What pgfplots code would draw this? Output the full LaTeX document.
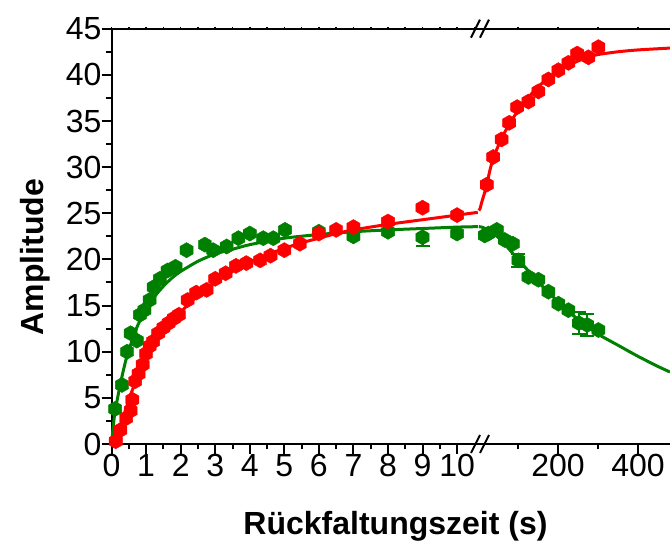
\documentclass[border=0pt]{standalone}
\usepackage{fontspec}
\setmainfont{Liberation Sans}
\usepackage{pgfplots}
\usepackage{pgfplotstable}
\pgfplotsset{compat=1.18}

\definecolor{rred}{RGB}{255,0,0}
\definecolor{ggreen}{RGB}{0,128,0}

% filled hexagon, vertex on top
\pgfdeclareplotmark{hexa*}{%
  \pgfpathmoveto{\pgfqpointpolar{90}{\pgfplotmarksize}}%
  \pgfpathlineto{\pgfqpointpolar{150}{\pgfplotmarksize}}%
  \pgfpathlineto{\pgfqpointpolar{210}{\pgfplotmarksize}}%
  \pgfpathlineto{\pgfqpointpolar{270}{\pgfplotmarksize}}%
  \pgfpathlineto{\pgfqpointpolar{330}{\pgfplotmarksize}}%
  \pgfpathlineto{\pgfqpointpolar{30}{\pgfplotmarksize}}%
  \pgfpathclose
  \pgfusepathqfillstroke}

% ---------- measured amplitudes, 0-10 s ----------
\pgfplotstableread{
t    a
0.12 0.3
0.25 1.5
0.42 2.8
0.55 3.6
0.60 4.8
0.68 6.8
0.78 7.6
0.90 8.6
1.00 9.8
1.10 10.6
1.20 11.1
1.35 12.0
1.50 12.6
1.65 13.1
1.80 13.6
1.95 14.0
2.20 15.6
2.45 16.4
2.75 16.7
3.00 17.9
3.30 18.5
3.60 19.3
3.90 19.6
4.30 19.9
4.60 20.4
5.00 21.0
5.45 21.7
6.00 22.8
6.50 23.2
7.00 23.5
8.00 24.1
9.00 25.6
10.00 24.8
}\redA
\pgfplotstableread{
t    a
0.10 3.8
0.30 6.4
0.45 10.0
0.55 12.0
0.73 11.2
0.82 14.0
0.95 14.5
1.10 15.6
1.22 17.0
1.40 17.9
1.62 18.8
1.85 19.2
2.17 21.0
2.70 21.6
2.94 21.0
3.33 21.4
3.67 22.3
4.00 22.8
4.39 22.3
4.68 22.3
5.02 23.2
6.00 23.0
7.00 22.5
8.00 23.0
10.00 22.8
}\greenA
\pgfplotstableread{
t    a    e
9.00 22.4 1.0
}\greenAerr

% ---------- measured amplitudes, long times ----------
\pgfplotstableread{
t   a
22  28.1
38  31.1
59  33.0
78  34.8
98  36.5
126 37.1
151 38.2
176 39.5
201 40.5
226 41.3
248 42.3
276 41.9
301 43.0
}\redB
\pgfplotstableread{
t   a
17  22.6
26  22.8
47  23.2
67  22.1
87  21.7
126 18.1
151 17.8
176 16.5
201 15.2
226 14.5
301 12.35
}\greenB
\pgfplotstableread{
t   a    e
101 19.9 0.7
252 13.1 1.2
273 12.9 1.2
}\greenBerr

% ---------- fitted curves ----------
\pgfplotstableread{
t    a
0.12 0.0
0.25 1.8
0.50 4.8
0.75 7.3
1.00 9.3
1.25 10.9
1.50 12.2
1.75 13.3
2.00 14.3
2.50 16.1
3.00 17.5
3.50 18.7
4.00 19.7
4.50 20.5
5.00 21.2
5.50 21.8
6.00 22.3
6.50 22.8
7.00 23.2
8.00 23.8
9.00 24.3
10.00 24.8
10.60 25.1
}\redFitA
\pgfplotstableread{
t    a
0.00 0.0
0.05 2.0
0.10 3.5
0.20 5.5
0.30 7.3
0.40 8.9
0.50 10.2
0.75 12.8
1.00 14.6
1.25 16.0
1.50 17.1
1.75 18.0
2.00 18.7
2.50 19.8
3.00 20.6
3.50 21.1
4.00 21.6
5.00 22.3
6.00 22.7
7.00 23.0
8.00 23.2
9.00 23.35
10.00 23.5
10.60 23.55
}\greenFitA
\pgfplotstableread{
t   a
2   25.3
5   25.5
10  26.3
15  27.0
22  28.1
30  29.7
40  31.2
60  33.2
80  34.8
100 36.1
125 37.5
150 38.7
175 39.6
200 40.4
225 41.0
250 41.5
275 41.9
300 42.2
350 42.5
400 42.7
480 42.9
}\redFitB
\pgfplotstableread{
t   a
2   23.55
10  23.5
20  23.3
30  23.1
45  22.6
60  22.0
80  21.0
100 20.0
125 18.8
150 17.6
175 16.5
200 15.4
225 14.4
250 13.5
275 12.7
300 11.9
350 10.7
400 9.5
450 8.4
480 7.8
}\greenFitB

\pgfplotsset{
  seg/.style={
    scale only axis, height=415.3pt, ymin=0, ymax=45,
    clip=false,
    axis line style={line width=2.2pt},
    every tick/.style={black, line width=2pt},
    tick align=outside,
    major tick length=10pt, minor tick length=5.5pt,
    ticklabel style={font=\fontsize{32}{36}\selectfont, inner sep=0pt},
    /pgf/number format/assume math mode=true,
  },
  topseg/.style={
    scale only axis, height=415.3pt, ymin=0, ymax=45,
    axis x line*=top, axis y line=none,
    axis line style={line width=2.2pt},
    every tick/.style={black, line width=1.6pt},
    tick align=center, major tick length=3.5pt,
    xticklabels={},
  },
  fit/.style={line width=3pt, no marks, smooth, tension=0.4},
  pts/.style={only marks, mark=hexa*, mark size=7.6pt,
    mark options={line width=0.6pt}},
}

\begin{document}
\begin{tikzpicture}[x=1pt,y=1pt]
\path[use as bounding box] (0,0) rectangle (670,543);

% ---- 0 to 10.6 s, linear ----
\begin{axis}[seg,
  at={(111.6pt,99pt)}, anchor=south west, width=366.2pt,
  xmin=0, xmax=10.6,
  axis x line*=bottom, axis y line*=left,
  xtick={0,1,...,10}, minor xtick={0.5,1.5,...,9.5},
  ytick={0,5,...,45}, minor ytick={2.5,7.5,...,42.5},
]
\addplot[fit, ggreen] table[x=t,y=a] {\greenFitA};
\addplot[pts, ggreen, mark options={fill=ggreen}] table[x=t,y=a] {\greenA};
\addplot[pts, ggreen, mark options={fill=ggreen},
  error bars/.cd, y dir=both, y explicit,
  error bar style={line width=2pt},
  error mark options={rotate=90, mark size=7pt, line width=2pt}]
  table[x=t,y=a,y error=e] {\greenAerr};
\addplot[fit, rred] table[x=t,y=a] {\redFitA};
\addplot[pts, rred, mark options={fill=rred}] table[x=t,y=a] {\redA};
\end{axis}
\begin{axis}[topseg, at={(111.6pt,99pt)}, anchor=south west, width=366.2pt,
  xmin=0, xmax=10.6, xtick={0,0.5,...,10.5}]
\end{axis}

% ---- long times, linear ----
\begin{axis}[seg,
  at={(478pt,99pt)}, anchor=south west, width=192pt,
  xmin=0, xmax=480,
  axis x line*=bottom, axis y line=none,
  xtick={200,400}, minor xtick={100,300},
]
\addplot[fit, ggreen] table[x=t,y=a] {\greenFitB};
\addplot[pts, ggreen, mark options={fill=ggreen}] table[x=t,y=a] {\greenB};
\addplot[pts, ggreen, mark options={fill=ggreen},
  error bars/.cd, y dir=both, y explicit,
  error bar style={line width=2pt},
  error mark options={rotate=90, mark size=7pt, line width=2pt}]
  table[x=t,y=a,y error=e] {\greenBerr};
\addplot[fit, rred] table[x=t,y=a] {\redFitB};
\addplot[pts, rred, mark options={fill=rred}] table[x=t,y=a] {\redB};
\end{axis}
\begin{axis}[topseg, at={(478pt,99pt)}, anchor=south west, width=192pt,
  xmin=0, xmax=480, xtick={100,200,300,400}]
\end{axis}

% axis-break marks
\foreach \yy in {99,514.3} {
  \draw[line width=2pt] (471,\yy-9) -- (480,\yy+9);
  \draw[line width=2pt] (480,\yy-9) -- (489,\yy+9);
}

% axis titles
\node[font=\bfseries\fontsize{32}{36}\selectfont, anchor=base, inner sep=0pt]
  at (395.5,8) {Rückfaltungszeit (s)};
\node[font=\bfseries\fontsize{32}{36}\selectfont, anchor=base, rotate=90, inner sep=0pt]
  at (43,286) {Amplitude};
\end{tikzpicture}
\end{document}
